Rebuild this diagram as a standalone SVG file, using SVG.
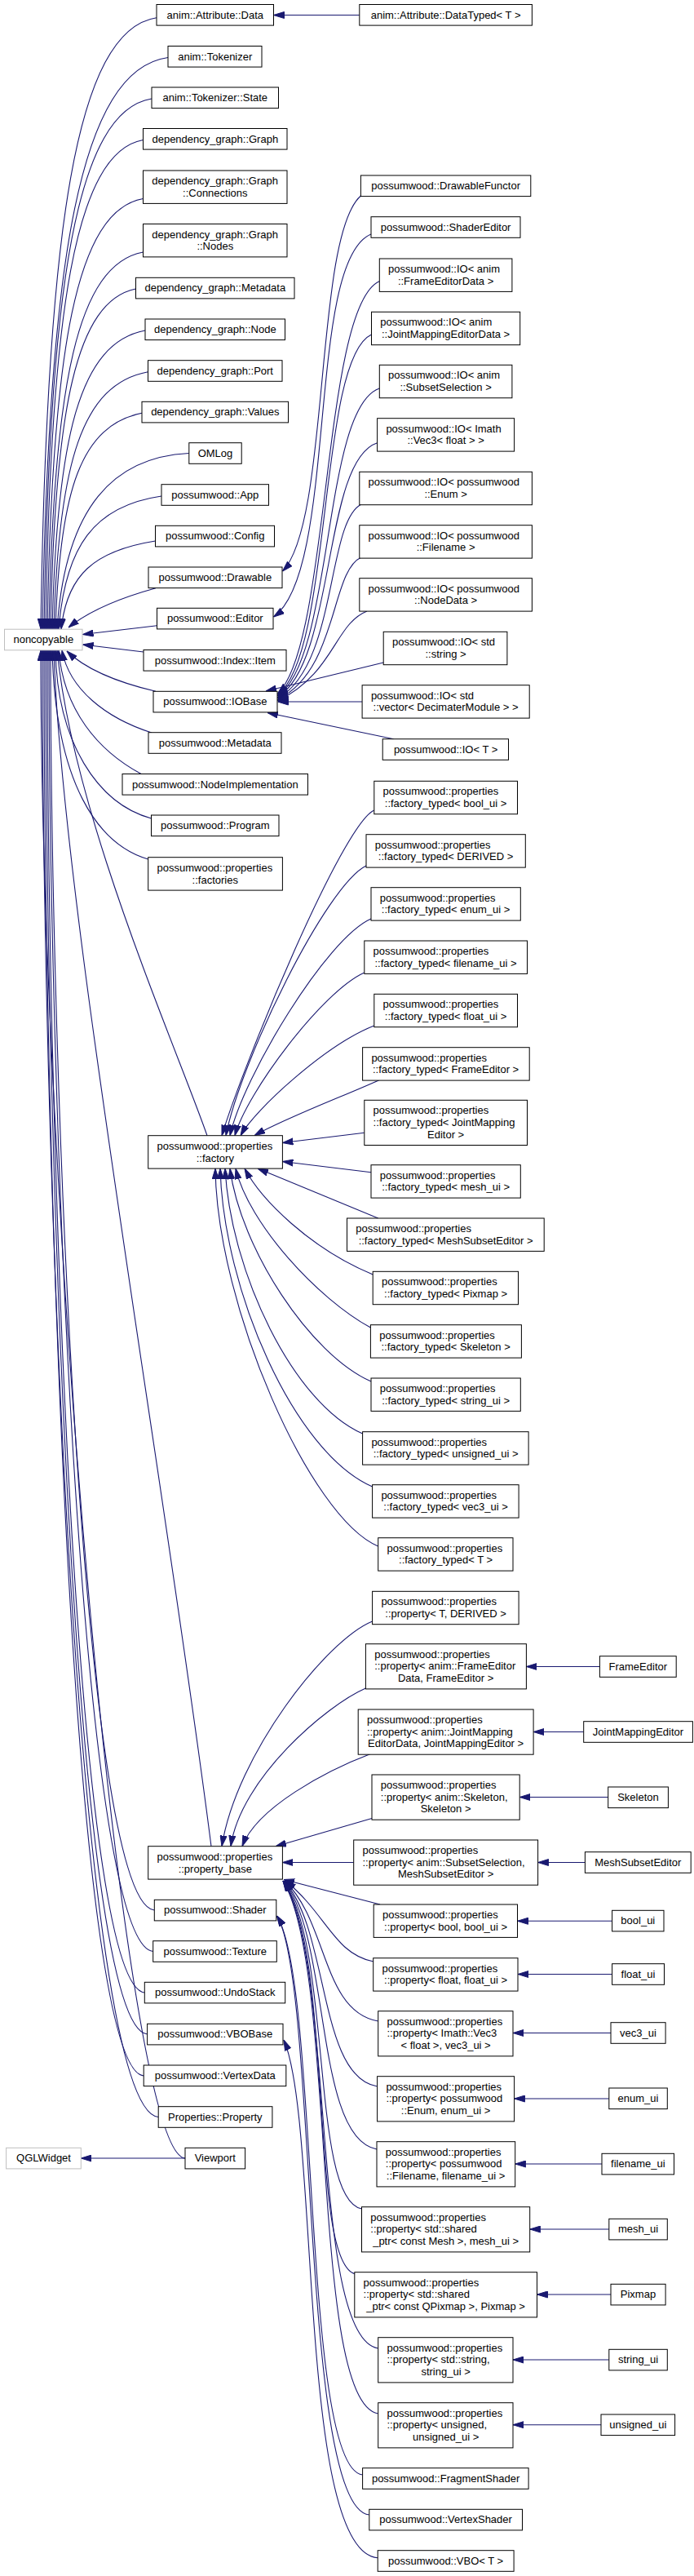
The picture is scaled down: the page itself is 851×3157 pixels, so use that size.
<svg xmlns="http://www.w3.org/2000/svg" width="851" height="3157" viewBox="0 0 851 3157">
<style>
.n rect{fill:#fff;stroke:#000;stroke-width:1}
.g rect{fill:#fff;stroke:#bfbfbf;stroke-width:1}
text{font-family:'Liberation Sans',Arial,Helvetica,sans-serif;font-size:13px;fill:#000}
.m{text-anchor:middle}
#edges path{fill:none;stroke:#191970;stroke-width:1.1;marker-end:url(#ah)}
</style>
<defs>
<marker id="ah" viewBox="0 0 13 9" refX="13" refY="4.5" markerWidth="13" markerHeight="9" markerUnits="userSpaceOnUse" orient="auto"><path d="M0,0.5 L13,4.5 L0,8.5 Z" fill="#191970" stroke="#191970" stroke-width="1"/></marker>
</defs>
<rect width="851" height="3157" fill="#fff"/>
<g id="edges">
<path d="M440.8,18.5 L335.5,18.5"/>
<path d="M192,21.7 C92.6,36.7 57.1,283.9 50,771"/>
<path d="M206,70.5 C98.2,85.5 59.7,317 52,771"/>
<path d="M186,121 C93.6,136 60.6,349.8 54,771"/>
<path d="M175.5,171.5 C91.9,186.5 62,382.8 56,771"/>
<path d="M175.5,243.5 C93.3,258 63.9,427.8 58,771"/>
<path d="M175.5,309 C94.7,324 65.8,470.7 60,771"/>
<path d="M166.5,354 C93.3,369 67.2,500 62,771"/>
<path d="M178,405 C98.1,420 69.7,533 64,771"/>
<path d="M181.5,455.7 C100.7,470.7 71.8,566 66,771"/>
<path d="M174,506.3 C99.8,521.3 73.3,599 68,771"/>
<path d="M231.8,555.5 C140,560 80,620 70,771"/>
<path d="M198,608 C115,620 80,670 72,771"/>
<path d="M190.5,663 C115,675 82,705 75,771"/>
<path d="M191,720.7 C150,732 110,748 84,769"/>
<path d="M192.5,766.7 L101.5,777.5"/>
<path d="M176,799 L101.5,790"/>
<path d="M191,847.3 C160,840 110,825 82,798"/>
<path d="M186,898 C130,880 85,845 76,797"/>
<path d="M173.5,948.7 C120,920 78,870 72,797"/>
<path d="M185.5,1003 C120,985 70,910 68,797"/>
<path d="M181.7,1053 C120,1035 68,960 64,797"/>
<path d="M254,1391.7 C215,1280 90,1000 70,797"/>
<path d="M259,2262.7 C200,1800 75,1100 66,797"/>
<path d="M189.3,2341 C100,2333 62,1300 62,797"/>
<path d="M187.7,2391.5 C98,2383 60,1325 60,797"/>
<path d="M177.3,2442 C90,2434 58,1350 58,797"/>
<path d="M180.6,2493 C90,2485 56,1375 56,797"/>
<path d="M176.2,2544 C88,2536 54,1400 54,797"/>
<path d="M194.2,2594.5 C95,2586 52,1425 52,797"/>
<path d="M227,2645 C150,2640 50,1450 50,797"/>
<path d="M227,2645 L99.3,2645"/>
<path d="M442.4,240 C385,290 405,640 346.5,700"/>
<path d="M455,287 C375,320 415,700 335.5,756"/>
<path d="M465.3,344.7 C395,375 405,790 340.5,850"/>
<path d="M455.5,410 C390,440 408,800 340.5,851.5"/>
<path d="M465.3,476 C395,500 410,805 340.5,853"/>
<path d="M462.6,542.7 C395,565 412,810 340.5,854.5"/>
<path d="M443,618 C400,640 414,815 340.5,856"/>
<path d="M443,683 C405,700 415,820 340.5,857.5"/>
<path d="M450,749 C410,765 410,825 340.5,859"/>
<path d="M470.2,812 L326,847"/>
<path d="M444.1,860 L340.5,860"/>
<path d="M482.8,905.7 L328,873.5"/>
<path d="M458.8,993 C420,1010 300,1300 272,1391.7"/>
<path d="M449,1061 C400,1085 295,1300 277,1391.7"/>
<path d="M455,1126 C400,1150 298,1320 282,1391.7"/>
<path d="M446.8,1192 C395,1215 302,1340 288,1391.7"/>
<path d="M458.8,1257 C400,1280 312,1360 295,1391.7"/>
<path d="M466.4,1323 C430,1340 350,1370 312,1391.7"/>
<path d="M446.8,1388.3 L346.4,1400.5"/>
<path d="M455,1436.7 L346.4,1423.5"/>
<path d="M463.7,1493 L316,1432.1"/>
<path d="M457.2,1562 C380,1530 320,1470 300,1432.1"/>
<path d="M454.4,1627 C390,1592 305,1500 289,1432.1"/>
<path d="M455,1693 C380,1660 295,1530 282,1432.1"/>
<path d="M444.6,1757 C360,1720 283,1560 276,1432.1"/>
<path d="M456.6,1822 C360,1780 274,1580 270,1432.1"/>
<path d="M463.7,1895 C380,1860 266,1600 264,1432.1"/>
<path d="M456.6,1987 C400,2010 290,2150 272,2262.7"/>
<path d="M448.4,2069 C400,2090 295,2180 283,2262.7"/>
<path d="M455.5,2149 C400,2170 315,2215 297,2262.7"/>
<path d="M456,2228.5 L338,2262.7"/>
<path d="M433.7,2282.5 L346.4,2282.5"/>
<path d="M466,2334 L348,2303.5"/>
<path d="M458,2404 C410,2395 400,2345 350,2305"/>
<path d="M463.7,2477 C395,2465 402,2355 349,2305"/>
<path d="M462.6,2557 C390,2545 404,2365 348,2305"/>
<path d="M462,2634 C385,2620 406,2375 347.5,2305"/>
<path d="M443.5,2707 C380,2695 408,2385 347,2305"/>
<path d="M436,2787 C378,2775 410,2395 347,2305"/>
<path d="M463.7,2878 C380,2865 412,2405 347,2305"/>
<path d="M463.7,2958 C380,2945 414,2415 347,2305"/>
<path d="M444.6,3033 C370,3025 392,2430 339.5,2348"/>
<path d="M452.8,3082 C368,3075 390,2430 339.5,2348"/>
<path d="M463.2,3134.7 C365,3128 392,2600 348,2500"/>
<path d="M735.4,2042.5 L645.4,2042.5"/>
<path d="M715.7,2122.5 L654.1,2122.5"/>
<path d="M745.7,2202.5 L637.2,2202.5"/>
<path d="M717.4,2282.5 L659.6,2282.5"/>
<path d="M750.6,2354.3 L634.5,2354.3"/>
<path d="M750.6,2419.5 L635,2419.5"/>
<path d="M749,2491.5 L629,2491.5"/>
<path d="M746.8,2572 L630.6,2572"/>
<path d="M738,2652 L631.7,2652"/>
<path d="M746.8,2732 L649.7,2732"/>
<path d="M749,2812 L658.5,2812"/>
<path d="M746.8,2892 L629,2892"/>
<path d="M737,2971.7 L629,2971.7"/>
</g>
<g id="n_attr_data" class="n"><rect x="192" y="5.5" width="143.5" height="25.6"/><text x="263.8" y="22.5" class="m">anim::Attribute::Data</text></g>
<g id="n_attr_datatyped" class="n"><rect x="440.8" y="5.5" width="211.6" height="25.6"/><text x="546.6" y="22.5" class="m">anim::Attribute::DataTyped&lt; T &gt;</text></g>
<g id="n_tokenizer" class="n"><rect x="206" y="56.5" width="115" height="25.6"/><text x="263.8" y="73.5" class="m">anim::Tokenizer</text></g>
<g id="n_tokenizer_state" class="n"><rect x="186" y="107" width="155.5" height="25.6"/><text x="263.8" y="124" class="m">anim::Tokenizer::State</text></g>
<g id="n_dg_graph" class="n"><rect x="175.5" y="157.5" width="176.5" height="25.6"/><text x="263.8" y="174.5" class="m">dependency_graph::Graph</text></g>
<g id="n_dg_connections" class="n"><rect x="175.5" y="209" width="176.5" height="40.4"/><text x="186.3" y="226">dependency_graph::Graph</text><text x="263.8" y="240.8" class="m">::Connections</text></g>
<g id="n_dg_nodes" class="n"><rect x="175.5" y="274.5" width="176.5" height="40.4"/><text x="186.3" y="291.5">dependency_graph::Graph</text><text x="263.8" y="306.3" class="m">::Nodes</text></g>
<g id="n_dg_metadata" class="n"><rect x="166.5" y="340.3" width="194.5" height="25.6"/><text x="263.8" y="357.3" class="m">dependency_graph::Metadata</text></g>
<g id="n_dg_node" class="n"><rect x="178" y="391" width="171.5" height="25.6"/><text x="263.8" y="408" class="m">dependency_graph::Node</text></g>
<g id="n_dg_port" class="n"><rect x="181.5" y="441.7" width="164.5" height="25.6"/><text x="263.8" y="458.7" class="m">dependency_graph::Port</text></g>
<g id="n_dg_values" class="n"><rect x="174" y="492.3" width="179.5" height="25.6"/><text x="263.8" y="509.3" class="m">dependency_graph::Values</text></g>
<g id="n_omlog" class="n"><rect x="231.8" y="542.7" width="64.4" height="25.6"/><text x="264" y="559.7" class="m">OMLog</text></g>
<g id="n_app" class="n"><rect x="198" y="593.7" width="131.5" height="25.6"/><text x="263.8" y="610.7" class="m">possumwood::App</text></g>
<g id="n_config" class="n"><rect x="190.5" y="644.3" width="146" height="25.6"/><text x="263.8" y="661.3" class="m">possumwood::Config</text></g>
<g id="n_drawable" class="n"><rect x="182" y="695" width="164" height="25.6"/><text x="263.8" y="712" class="m">possumwood::Drawable</text></g>
<g id="n_editor" class="n"><rect x="192.5" y="745.3" width="142.5" height="25.6"/><text x="263.8" y="762.3" class="m">possumwood::Editor</text></g>
<g id="n_noncopyable" class="g"><rect x="5.5" y="771.2" width="95.5" height="25.6"/><text x="53.3" y="788.2" class="m">noncopyable</text></g>
<g id="n_index_item" class="n"><rect x="176" y="796.5" width="175" height="25.6"/><text x="263.8" y="813.5" class="m">possumwood::Index::Item</text></g>
<g id="n_iobase" class="n"><rect x="188" y="847.3" width="152" height="25.6"/><text x="263.8" y="864.3" class="m">possumwood::IOBase</text></g>
<g id="n_pw_metadata" class="n"><rect x="182" y="897.7" width="163" height="25.6"/><text x="263.8" y="914.7" class="m">possumwood::Metadata</text></g>
<g id="n_nodeimpl" class="n"><rect x="150" y="948.5" width="227.5" height="25.6"/><text x="263.8" y="965.5" class="m">possumwood::NodeImplementation</text></g>
<g id="n_program" class="n"><rect x="185.5" y="999" width="156.5" height="25.6"/><text x="263.8" y="1016" class="m">possumwood::Program</text></g>
<g id="n_factories" class="n"><rect x="181.7" y="1050.7" width="164.7" height="40.4"/><text x="192.5" y="1067.7">possumwood::properties</text><text x="263.8" y="1082.5" class="m">::factories</text></g>
<g id="n_factory" class="n"><rect x="181.7" y="1391.7" width="164.7" height="40.4"/><text x="192.5" y="1408.7">possumwood::properties</text><text x="263.8" y="1423.5" class="m">::factory</text></g>
<g id="n_property_base" class="n"><rect x="181.7" y="2262.7" width="164.7" height="40.4"/><text x="192.5" y="2279.7">possumwood::properties</text><text x="263.8" y="2294.5" class="m">::property_base</text></g>
<g id="n_shader" class="n"><rect x="189.3" y="2328.3" width="149.5" height="25.6"/><text x="263.8" y="2345.3" class="m">possumwood::Shader</text></g>
<g id="n_texture" class="n"><rect x="187.7" y="2378.7" width="151.6" height="25.6"/><text x="263.8" y="2395.7" class="m">possumwood::Texture</text></g>
<g id="n_undostack" class="n"><rect x="177.3" y="2429.3" width="172.4" height="25.6"/><text x="263.8" y="2446.3" class="m">possumwood::UndoStack</text></g>
<g id="n_vbobase" class="n"><rect x="180.6" y="2480.3" width="166.4" height="25.6"/><text x="263.8" y="2497.3" class="m">possumwood::VBOBase</text></g>
<g id="n_vertexdata" class="n"><rect x="176.2" y="2531" width="174.6" height="25.6"/><text x="263.8" y="2548" class="m">possumwood::VertexData</text></g>
<g id="n_properties_property" class="n"><rect x="194.2" y="2581.7" width="139.7" height="25.6"/><text x="263.8" y="2598.7" class="m">Properties::Property</text></g>
<g id="n_viewport" class="n"><rect x="227" y="2632.3" width="73.6" height="25.6"/><text x="263.8" y="2649.3" class="m">Viewport</text></g>
<g id="n_qglwidget" class="g"><rect x="7.6" y="2632.3" width="91.7" height="25.6"/><text x="53.5" y="2649.3" class="m">QGLWidget</text></g>
<g id="n_drawablefunctor" class="n"><rect x="442.4" y="215" width="208.4" height="25.6"/><text x="546.6" y="232" class="m">possumwood::DrawableFunctor</text></g>
<g id="n_shadereditor" class="n"><rect x="455" y="265.7" width="183" height="25.6"/><text x="546.6" y="282.7" class="m">possumwood::ShaderEditor</text></g>
<g id="n_io_frameeditordata" class="n"><rect x="465.3" y="317" width="162.6" height="40.4"/><text x="476.1" y="333.8">possumwood::IO&lt; anim</text><text x="546.6" y="348.6" class="m">::FrameEditorData &gt;</text></g>
<g id="n_io_jointmapping" class="n"><rect x="455.5" y="382.3" width="182.2" height="40.4"/><text x="466.3" y="399.1">possumwood::IO&lt; anim</text><text x="546.6" y="413.9" class="m">::JointMappingEditorData &gt;</text></g>
<g id="n_io_subsetselection" class="n"><rect x="465.3" y="447.3" width="162.6" height="40.4"/><text x="476.1" y="464.1">possumwood::IO&lt; anim</text><text x="546.6" y="478.9" class="m">::SubsetSelection &gt;</text></g>
<g id="n_io_imath" class="n"><rect x="462.6" y="512.7" width="168" height="40.4"/><text x="473.4" y="529.5">possumwood::IO&lt; Imath</text><text x="546.6" y="544.3" class="m">::Vec3&lt; float &gt; &gt;</text></g>
<g id="n_io_enum" class="n"><rect x="440.8" y="578.3" width="211.6" height="40.4"/><text x="451.6" y="595.1">possumwood::IO&lt; possumwood</text><text x="546.6" y="609.9" class="m">::Enum &gt;</text></g>
<g id="n_io_filename" class="n"><rect x="440.8" y="643.7" width="211.6" height="40.4"/><text x="451.6" y="660.5">possumwood::IO&lt; possumwood</text><text x="546.6" y="675.3" class="m">::Filename &gt;</text></g>
<g id="n_io_nodedata" class="n"><rect x="440.8" y="708.7" width="211.6" height="40.4"/><text x="451.6" y="725.5">possumwood::IO&lt; possumwood</text><text x="546.6" y="740.3" class="m">::NodeData &gt;</text></g>
<g id="n_io_string" class="n"><rect x="470.2" y="774.3" width="151.7" height="40.4"/><text x="481" y="791.1">possumwood::IO&lt; std</text><text x="546.6" y="805.9" class="m">::string &gt;</text></g>
<g id="n_io_vector" class="n"><rect x="444.1" y="839.7" width="205.1" height="40.4"/><text x="454.9" y="856.5">possumwood::IO&lt; std</text><text x="546.6" y="871.3" class="m">::vector&lt; DecimaterModule &gt; &gt;</text></g>
<g id="n_io_t" class="n"><rect x="469.2" y="905.7" width="154.3" height="25.6"/><text x="546.6" y="922.7" class="m">possumwood::IO&lt; T &gt;</text></g>
<g id="n_ft_bool" class="n"><rect x="458.8" y="957.3" width="175.7" height="40.4"/><text x="469.6" y="974.1">possumwood::properties</text><text x="546.6" y="988.9" class="m">::factory_typed&lt; bool_ui &gt;</text></g>
<g id="n_ft_derived" class="n"><rect x="449" y="1022.7" width="195.3" height="40.4"/><text x="459.8" y="1039.5">possumwood::properties</text><text x="546.6" y="1054.3" class="m">::factory_typed&lt; DERIVED &gt;</text></g>
<g id="n_ft_enum" class="n"><rect x="455" y="1087.7" width="183.3" height="40.4"/><text x="465.8" y="1104.5">possumwood::properties</text><text x="546.6" y="1119.3" class="m">::factory_typed&lt; enum_ui &gt;</text></g>
<g id="n_ft_filename" class="n"><rect x="446.8" y="1153" width="199.7" height="40.4"/><text x="457.6" y="1169.8">possumwood::properties</text><text x="546.6" y="1184.6" class="m">::factory_typed&lt; filename_ui &gt;</text></g>
<g id="n_ft_float" class="n"><rect x="458.8" y="1218.3" width="175.7" height="40.4"/><text x="469.6" y="1235.1">possumwood::properties</text><text x="546.6" y="1249.9" class="m">::factory_typed&lt; float_ui &gt;</text></g>
<g id="n_ft_frameeditor" class="n"><rect x="444.6" y="1283.7" width="204.6" height="40.4"/><text x="455.4" y="1300.5">possumwood::properties</text><text x="546.6" y="1315.3" class="m">::factory_typed&lt; FrameEditor &gt;</text></g>
<g id="n_ft_jointmapping" class="n"><rect x="446.8" y="1348.3" width="199.7" height="55.2"/><text x="457.6" y="1365.1">possumwood::properties</text><text x="457.6" y="1379.9">::factory_typed&lt; JointMapping</text><text x="546.6" y="1394.7" class="m">Editor &gt;</text></g>
<g id="n_ft_mesh" class="n"><rect x="455" y="1427.7" width="183.3" height="40.4"/><text x="465.8" y="1444.5">possumwood::properties</text><text x="546.6" y="1459.3" class="m">::factory_typed&lt; mesh_ui &gt;</text></g>
<g id="n_ft_meshsubseteditor" class="n"><rect x="425.5" y="1493" width="241.7" height="40.4"/><text x="436.3" y="1509.8">possumwood::properties</text><text x="546.6" y="1524.6" class="m">::factory_typed&lt; MeshSubsetEditor &gt;</text></g>
<g id="n_ft_pixmap" class="n"><rect x="457.2" y="1558.3" width="178.3" height="40.4"/><text x="468" y="1575.1">possumwood::properties</text><text x="546.6" y="1589.9" class="m">::factory_typed&lt; Pixmap &gt;</text></g>
<g id="n_ft_skeleton" class="n"><rect x="454.4" y="1623.7" width="185" height="40.4"/><text x="465.2" y="1640.5">possumwood::properties</text><text x="546.6" y="1655.3" class="m">::factory_typed&lt; Skeleton &gt;</text></g>
<g id="n_ft_string" class="n"><rect x="455" y="1689" width="183.3" height="40.4"/><text x="465.8" y="1705.8">possumwood::properties</text><text x="546.6" y="1720.6" class="m">::factory_typed&lt; string_ui &gt;</text></g>
<g id="n_ft_unsigned" class="n"><rect x="444.6" y="1754.7" width="203.5" height="40.4"/><text x="455.4" y="1771.5">possumwood::properties</text><text x="546.6" y="1786.3" class="m">::factory_typed&lt; unsigned_ui &gt;</text></g>
<g id="n_ft_vec3" class="n"><rect x="456.6" y="1819.7" width="179.5" height="40.4"/><text x="467.4" y="1836.5">possumwood::properties</text><text x="546.6" y="1851.3" class="m">::factory_typed&lt; vec3_ui &gt;</text></g>
<g id="n_ft_t" class="n"><rect x="463.7" y="1884.7" width="165.3" height="40.4"/><text x="474.5" y="1901.5">possumwood::properties</text><text x="546.6" y="1916.3" class="m">::factory_typed&lt; T &gt;</text></g>
<g id="n_prop_t_derived" class="n"><rect x="456.6" y="1950.3" width="179.5" height="40.4"/><text x="467.4" y="1967.1">possumwood::properties</text><text x="546.6" y="1981.9" class="m">::property&lt; T, DERIVED &gt;</text></g>
<g id="n_prop_frameeditor" class="n"><rect x="448.4" y="2014.7" width="197" height="55.2"/><text x="459.2" y="2031.5">possumwood::properties</text><text x="459.2" y="2046.3">::property&lt; anim::FrameEditor</text><text x="546.6" y="2061.1" class="m">Data, FrameEditor &gt;</text></g>
<g id="n_prop_jointmapping" class="n"><rect x="439.2" y="2095" width="214.9" height="55.2"/><text x="450" y="2111.8">possumwood::properties</text><text x="450" y="2126.6">::property&lt; anim::JointMapping</text><text x="546.6" y="2141.4" class="m">EditorData, JointMappingEditor &gt;</text></g>
<g id="n_prop_skeleton" class="n"><rect x="456" y="2175" width="181.2" height="55.2"/><text x="466.8" y="2191.8">possumwood::properties</text><text x="466.8" y="2206.6">::property&lt; anim::Skeleton,</text><text x="546.6" y="2221.4" class="m">Skeleton &gt;</text></g>
<g id="n_prop_subset" class="n"><rect x="433.7" y="2255" width="225.9" height="55.2"/><text x="444.5" y="2271.8">possumwood::properties</text><text x="444.5" y="2286.6">::property&lt; anim::SubsetSelection,</text><text x="546.6" y="2301.4" class="m">MeshSubsetEditor &gt;</text></g>
<g id="n_prop_bool" class="n"><rect x="458.2" y="2334" width="176.3" height="40.4"/><text x="469" y="2350.8">possumwood::properties</text><text x="546.6" y="2365.6" class="m">::property&lt; bool, bool_ui &gt;</text></g>
<g id="n_prop_float" class="n"><rect x="457.7" y="2399.7" width="177.3" height="40.4"/><text x="468.5" y="2416.5">possumwood::properties</text><text x="546.6" y="2431.3" class="m">::property&lt; float, float_ui &gt;</text></g>
<g id="n_prop_vec3" class="n"><rect x="463.7" y="2464.7" width="165.3" height="55.2"/><text x="474.5" y="2481.5">possumwood::properties</text><text x="474.5" y="2496.3">::property&lt; Imath::Vec3</text><text x="546.6" y="2511.1" class="m">&lt; float &gt;, vec3_ui &gt;</text></g>
<g id="n_prop_enum" class="n"><rect x="462.6" y="2544.7" width="168" height="55.2"/><text x="473.4" y="2561.5">possumwood::properties</text><text x="473.4" y="2576.3">::property&lt; possumwood</text><text x="546.6" y="2591.1" class="m">::Enum, enum_ui &gt;</text></g>
<g id="n_prop_filename" class="n"><rect x="462" y="2624.7" width="169.7" height="55.2"/><text x="472.8" y="2641.5">possumwood::properties</text><text x="472.8" y="2656.3">::property&lt; possumwood</text><text x="546.6" y="2671.1" class="m">::Filename, filename_ui &gt;</text></g>
<g id="n_prop_mesh" class="n"><rect x="443.5" y="2704.7" width="206.2" height="55.2"/><text x="454.3" y="2721.5">possumwood::properties</text><text x="454.3" y="2736.3">::property&lt; std::shared</text><text x="546.6" y="2751.1" class="m">_ptr&lt; const Mesh &gt;, mesh_ui &gt;</text></g>
<g id="n_prop_pixmap" class="n"><rect x="434.8" y="2784.7" width="223.7" height="55.2"/><text x="445.6" y="2801.5">possumwood::properties</text><text x="445.6" y="2816.3">::property&lt; std::shared</text><text x="546.6" y="2831.1" class="m">_ptr&lt; const QPixmap &gt;, Pixmap &gt;</text></g>
<g id="n_prop_string" class="n"><rect x="463.7" y="2864.7" width="165.3" height="55.2"/><text x="474.5" y="2881.5">possumwood::properties</text><text x="474.5" y="2896.3">::property&lt; std::string,</text><text x="546.6" y="2911.1" class="m">string_ui &gt;</text></g>
<g id="n_prop_unsigned" class="n"><rect x="463.7" y="2944.7" width="165.3" height="55.2"/><text x="474.5" y="2961.5">possumwood::properties</text><text x="474.5" y="2976.3">::property&lt; unsigned,</text><text x="546.6" y="2991.1" class="m">unsigned_ui &gt;</text></g>
<g id="n_fragmentshader" class="n"><rect x="444.6" y="3024.7" width="203.5" height="25.6"/><text x="546.6" y="3041.7" class="m">possumwood::FragmentShader</text></g>
<g id="n_vertexshader" class="n"><rect x="452.8" y="3075.3" width="187.7" height="25.6"/><text x="546.6" y="3092.3" class="m">possumwood::VertexShader</text></g>
<g id="n_vbo_t" class="n"><rect x="463.2" y="3125.7" width="166.9" height="25.6"/><text x="546.6" y="3142.7" class="m">possumwood::VBO&lt; T &gt;</text></g>
<g id="n_frameeditor" class="n"><rect x="735.4" y="2029.7" width="93.8" height="25.6"/><text x="782.3" y="2046.7" class="m">FrameEditor</text></g>
<g id="n_jointmappingeditor" class="n"><rect x="715.7" y="2109.7" width="133.7" height="25.6"/><text x="782.5" y="2126.7" class="m">JointMappingEditor</text></g>
<g id="n_skeleton" class="n"><rect x="745.7" y="2190" width="73.7" height="25.6"/><text x="782.5" y="2207" class="m">Skeleton</text></g>
<g id="n_meshsubseteditor" class="n"><rect x="717.4" y="2269.7" width="129.8" height="25.6"/><text x="782.3" y="2286.7" class="m">MeshSubsetEditor</text></g>
<g id="n_bool_ui" class="n"><rect x="750.6" y="2341.3" width="63.4" height="25.6"/><text x="782.3" y="2358.3" class="m">bool_ui</text></g>
<g id="n_float_ui" class="n"><rect x="750.6" y="2406.7" width="63.9" height="25.6"/><text x="782.5" y="2423.7" class="m">float_ui</text></g>
<g id="n_vec3_ui" class="n"><rect x="749" y="2478.7" width="67.1" height="25.6"/><text x="782.5" y="2495.7" class="m">vec3_ui</text></g>
<g id="n_enum_ui" class="n"><rect x="746.8" y="2559" width="71.5" height="25.6"/><text x="782.5" y="2576" class="m">enum_ui</text></g>
<g id="n_filename_ui" class="n"><rect x="738" y="2639.3" width="88.5" height="25.6"/><text x="782.3" y="2656.3" class="m">filename_ui</text></g>
<g id="n_mesh_ui" class="n"><rect x="746.8" y="2719.3" width="71.5" height="25.6"/><text x="782.5" y="2736.3" class="m">mesh_ui</text></g>
<g id="n_pixmap" class="n"><rect x="749" y="2799.3" width="67.1" height="25.6"/><text x="782.5" y="2816.3" class="m">Pixmap</text></g>
<g id="n_string_ui" class="n"><rect x="746.8" y="2879.3" width="71.5" height="25.6"/><text x="782.5" y="2896.3" class="m">string_ui</text></g>
<g id="n_unsigned_ui" class="n"><rect x="737" y="2959" width="90.6" height="25.6"/><text x="782.3" y="2976" class="m">unsigned_ui</text></g>
</svg>
